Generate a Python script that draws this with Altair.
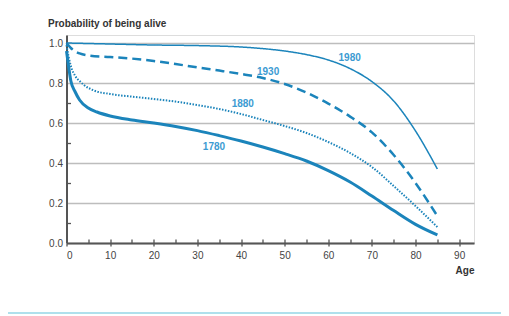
import altair as alt
import pandas as pd

# ---- data ----
ages_1780 = [0, 0.5, 1, 2, 3, 5, 7, 10, 15, 20, 25, 30, 35, 40, 45, 50, 55, 60, 65, 70, 75, 80, 85]
vals_1780 = [0.96, 0.88, 0.81, 0.755, 0.715, 0.675, 0.655, 0.635, 0.615, 0.60, 0.583, 0.562, 0.537, 0.51, 0.48, 0.447, 0.41, 0.362, 0.305, 0.235, 0.162, 0.093, 0.04]

ages_1880 = [0, 0.5, 1, 2, 3, 4, 6, 10, 15, 20, 25, 30, 35, 40, 45, 50, 55, 60, 65, 70, 75, 80, 85]
vals_1880 = [0.99, 0.93, 0.885, 0.835, 0.81, 0.79, 0.765, 0.745, 0.732, 0.72, 0.707, 0.69, 0.67, 0.645, 0.615, 0.585, 0.55, 0.505, 0.45, 0.38, 0.285, 0.185, 0.08]

ages_1930 = [0, 1, 2, 3, 5, 10, 15, 20, 25, 30, 35, 40, 45, 50, 55, 60, 65, 70, 75, 80, 85]
vals_1930 = [1.0, 0.975, 0.958, 0.948, 0.938, 0.93, 0.922, 0.91, 0.895, 0.878, 0.862, 0.845, 0.825, 0.795, 0.752, 0.697, 0.632, 0.553, 0.44, 0.30, 0.135]

ages_1980 = [0, 10, 20, 30, 40, 45, 50, 55, 60, 65, 70, 75, 80, 85]
vals_1980 = [1.0, 0.995, 0.99, 0.987, 0.98, 0.972, 0.96, 0.942, 0.915, 0.872, 0.807, 0.71, 0.56, 0.37]

label_texts = ["1980", "1930", "1880", "1780"]
label_ages = [64.9, 46.2, 40.4, 33.8]
label_vals = [0.926, 0.855, 0.696, 0.481]

y_title = ["Probability of being alive"]

x_ticks = [0, 10, 20, 30, 40, 50, 60, 70, 80, 90]
x_minor = [5, 10, 15, 20, 25, 30, 35, 40, 45, 50, 55, 60, 65, 70, 75, 80, 85, 90]
y_ticks = [0.0, 0.2, 0.4, 0.6, 0.8, 1.0]
y_minor = [0.1, 0.3, 0.5, 0.7, 0.9]

LINE = "#1b84bb"
LABEL = "#3c9bd2"
AXIS = "#555555"
FONT = "Liberation Sans"

def frame(ages, vals):
    return pd.DataFrame({"age": ages, "p": vals})

xscale = alt.Scale(domain=[0, 93.4], nice=False, zero=False)
yscale = alt.Scale(domain=[0, 1.04], nice=False)

main_x_axis = alt.Axis(values=x_ticks, orient="bottom", tickSize=3, tickWidth=1.3, tickColor=AXIS,
                       domainColor=AXIS, domainWidth=2, labelPadding=4, grid=False,
                       title="Age", titleAlign="right", titleAngle=0, titleX=407.5, titleY=30.5,
                       titleBaseline="alphabetic", labelFont=FONT, labelFontSize=10, labelColor="#444",
                       titleFont=FONT, titleFontSize=10, titleFontWeight="bold", titleColor="#333")
main_y_axis = alt.Axis(values=y_ticks, orient="left", format=".1f", tickSize=0, domainColor=AXIS,
                       domainWidth=2, labelPadding=4, grid=True, gridColor="#bdbdbd", gridWidth=1.5,
                       title=None, labelFont=FONT, labelFontSize=10, labelColor="#444")

base_1780 = alt.Chart(frame(ages_1780, vals_1780)).mark_line(
    color=LINE, strokeWidth=3, interpolate="monotone").encode(
    x=alt.X("age:Q", scale=xscale, axis=main_x_axis),
    y=alt.Y("p:Q", scale=yscale, axis=main_y_axis))

minor_axes = alt.Chart(frame(ages_1780, vals_1780)).mark_line(opacity=0).encode(
    x=alt.X("age:Q", scale=xscale, axis=alt.Axis(values=x_minor, orient="bottom", offset=-4, tickSize=4,
                                                tickWidth=1.3, tickColor=AXIS, domain=False, labels=False,
                                                grid=False, title=None)),
    y=alt.Y("p:Q", scale=yscale, axis=alt.Axis(values=y_minor, orient="left", offset=-4, tickSize=4,
                                              tickWidth=1.3, tickColor=AXIS, domain=False, labels=False,
                                              grid=False, title=None)))

def series(ages, vals, width, dash):
    return alt.Chart(frame(ages, vals)).mark_line(
        color=LINE, strokeWidth=width, strokeDash=dash, interpolate="monotone").encode(
        x=alt.X("age:Q", scale=xscale, axis=None),
        y=alt.Y("p:Q", scale=yscale, axis=None))

l1880 = series(ages_1880, vals_1880, 2, [1.5, 1.5])
l1930 = series(ages_1930, vals_1930, 2.5, [9, 5])
l1980 = series(ages_1980, vals_1980, 1.5, [1, 0])

labels = alt.Chart(pd.DataFrame({"age": label_ages, "p": label_vals, "t": label_texts})).mark_text(
    color=LABEL, font=FONT, fontSize=10, fontWeight="bold").encode(
    x=alt.X("age:Q", scale=xscale, axis=None),
    y=alt.Y("p:Q", scale=yscale, axis=None),
    text="t:N")

title_mark = alt.Chart(pd.DataFrame({"t": y_title})).mark_text(
    color="#333", font=FONT, fontSize=10, fontWeight="bold", align="left", baseline="alphabetic").encode(
    x=alt.value(-18.5), y=alt.value(-8.5), text="t:N")

bottom_rule = alt.Chart(pd.DataFrame({"a": [0]})).mark_rule(color="#afe0ec", strokeWidth=2).encode(
    x=alt.value(-61.5), x2=alt.value(442.5), y=alt.value(278))

chart = alt.layer(base_1780, minor_axes, l1880, l1930, l1980, labels, title_mark, bottom_rule).resolve_axis(
    x="independent", y="independent").properties(
    width=407.5, height=208,
    autosize=alt.AutoSizeParams(type="none"),
    padding={"left": 58.5, "top": 27, "right": 27, "bottom": 73},
).configure_view(stroke=None).configure(background="white")

chart.save("out.html", embed_options={"renderer": "svg", "actions": False})
